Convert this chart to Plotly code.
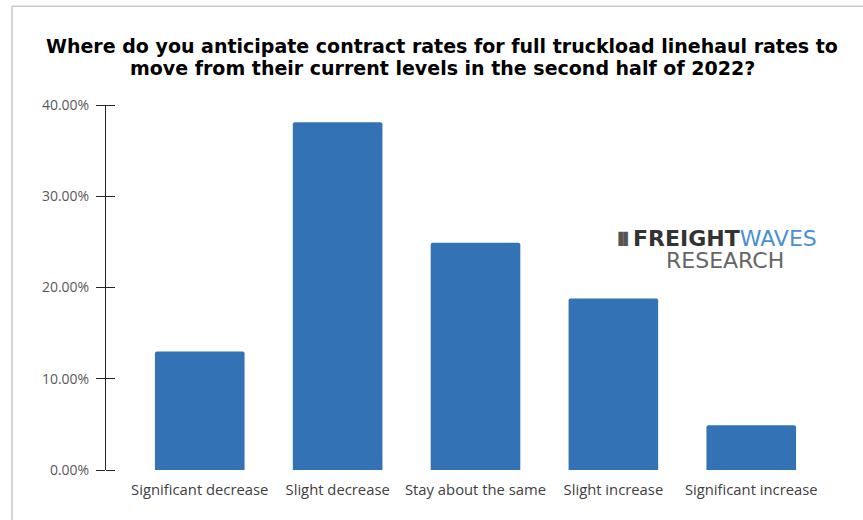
import plotly.graph_objects as go

categories = ["Significant decrease", "Slight decrease", "Stay about the same",
              "Slight increase", "Significant increase"]
values = [13.0, 38.1, 24.9, 18.8, 4.9]
y_ticks = [0, 10, 20, 30, 40]
y_tick_labels = ["0.00%", "10.00%", "20.00%", "30.00%", "40.00%"]
title_lines = ["Where do you anticipate contract rates for full truckload linehaul rates to",
               "move from their current levels in the second half of 2022?"]

W, H = 863, 520
L, R, T, B = 106, 18, 105, 49.5
pw, ph = W - L - R, H - T - B

def px(x):
    return (x - L) / pw

def py(y):
    return (H - B - y) / ph

fig = go.Figure()
fig.add_trace(go.Bar(
    x=categories, y=values,
    marker=dict(color="#3373B5", cornerradius=2, line=dict(width=0)),
    hoverinfo="x+y", showlegend=False,
))
# invisible trace to activate the secondary axis (cross ticks)
fig.add_trace(go.Scatter(x=[categories[0]], y=[0], yaxis="y2", mode="markers",
                         marker=dict(opacity=0), hoverinfo="skip", showlegend=False))

fig.update_layout(
    width=W, height=H,
    margin=dict(l=L, r=R, t=T, b=B),
    paper_bgcolor="white", plot_bgcolor="white",
    bargap=0.35,
    xaxis=dict(
        range=[-0.68, 4.68], showline=False, showgrid=False, zeroline=False,
        ticks="", ticklabelstandoff=9,
        tickfont=dict(family="Open Sans, Calibri, sans-serif", size=14.8, color="#404040"),
        fixedrange=True,
    ),
    yaxis=dict(
        range=[0, 40], tickvals=y_ticks, ticktext=y_tick_labels,
        showline=True, linecolor="#262626", linewidth=1,
        ticks="outside", ticklen=9, tickcolor="#262626", tickwidth=1,
        showgrid=False, zeroline=False, ticklabelstandoff=4,
        tickfont=dict(family="Open Sans, Calibri, sans-serif", size=14, color="#595959"),
        fixedrange=True,
    ),
    yaxis2=dict(
        range=[0, 40], tickvals=y_ticks, overlaying="y", side="left",
        anchor="free", position=9 / pw,
        showline=False, ticks="outside", ticklen=9, tickcolor="#262626", tickwidth=1,
        showticklabels=False, showgrid=False, zeroline=False, fixedrange=True,
    ),
)

# title (two lines, tight spacing like the original)
for line, yc in zip(title_lines, [46, 68]):
    fig.add_annotation(
        xref="paper", yref="paper", x=px(442), y=py(yc), xanchor="center", yanchor="middle",
        text="<b>" + line + "</b>", showarrow=False,
        font=dict(family="DejaVu Sans, Liberation Sans", size=19, color="#000000"),
    )

# logo text
fig.add_annotation(
    xref="paper", yref="paper", x=px(623), y=py(239), xanchor="center", yanchor="middle",
    text="▐▌", showarrow=False,
    font=dict(family="DejaVu Sans", size=12, color="#555555"),
)
fig.add_annotation(
    xref="paper", yref="paper", x=px(631), y=py(239), xanchor="left", yanchor="middle",
    text="<b>FREIGHT</b><span style='color:#4A8FD6'>WAVES</span>",
    showarrow=False,
    font=dict(family="DejaVu Sans, Liberation Sans", size=22, color="#333333"),
)
fig.add_annotation(
    xref="paper", yref="paper", x=px(725), y=py(261), xanchor="center", yanchor="middle",
    text="RESEARCH", showarrow=False,
    font=dict(family="DejaVu Sans, Liberation Sans", size=22, color="#666666"),
)

# screenshot frame lines (top and left)
fig.add_shape(type="line", xref="paper", yref="paper",
              x0=px(12), x1=px(W + 5), y0=py(6), y1=py(6),
              line=dict(color="#C8C8C8", width=1.5))
fig.add_shape(type="line", xref="paper", yref="paper",
              x0=px(12), x1=px(12), y0=py(6), y1=py(H + 5),
              line=dict(color="#C8C8C8", width=1.5))

fig.write_html("out.html")
